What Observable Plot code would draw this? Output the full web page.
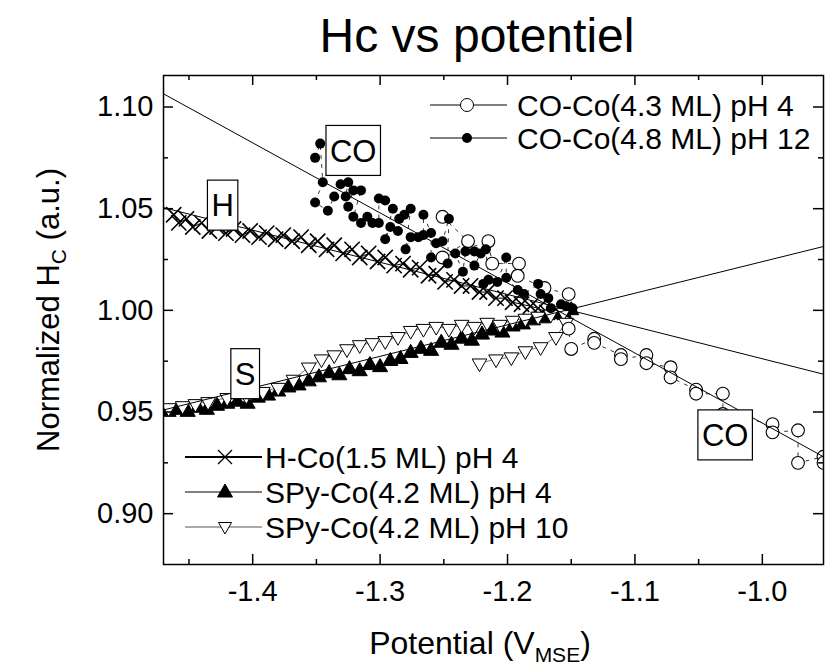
<!DOCTYPE html>
<html>
<head>
<meta charset="utf-8">
<script src="https://cdn.jsdelivr.net/npm/d3@7"></script>
<script src="https://cdn.jsdelivr.net/npm/@observablehq/plot@0.6"></script>
<style>
  html, body { margin: 0; padding: 0; background: #fff; }
  #chart svg { display: block; }
</style>
</head>
<body>
<div id="chart"></div>
<script>
// ---------- data ----------
const titleText = "Hc vs potentiel";
const xTicks = [-1.4, -1.3, -1.2, -1.1, -1.0];
const xTickLabels = ["-1.4", "-1.3", "-1.2", "-1.1", "-1.0"];
const xMinorTicks = [-1.45, -1.35, -1.25, -1.15, -1.05];
const yTicks = [0.90, 0.95, 1.00, 1.05, 1.10];
const yTickLabels = ["0.90", "0.95", "1.00", "1.05", "1.10"];
const yMinorTicks = [0.925, 0.975, 1.025, 1.075];

const seriesNames = ["CO-Co(4.3 ML) pH 4", "CO-Co(4.8 ML) pH 12", "H-Co(1.5 ML) pH 4", "SPy-Co(4.2 ML) pH 4", "SPy-Co(4.2 ML) pH 10"];

const hCo = [
  [-1.462,1.047],[-1.458,1.043],[-1.452,1.045],[-1.447,1.041],[-1.440,1.043],[-1.434,1.039],
  [-1.428,1.041],[-1.421,1.038],[-1.415,1.040],[-1.408,1.037],[-1.402,1.039],[-1.395,1.036],
  [-1.389,1.038],[-1.382,1.035],[-1.376,1.037],[-1.369,1.034],[-1.362,1.036],[-1.356,1.032],
  [-1.349,1.034],[-1.342,1.030],[-1.336,1.032],[-1.329,1.028],[-1.322,1.030],[-1.316,1.026],
  [-1.309,1.028],[-1.302,1.024],[-1.296,1.026],[-1.289,1.022],[-1.282,1.023],[-1.276,1.020],
  [-1.269,1.021],[-1.262,1.017],[-1.256,1.018],[-1.249,1.014],[-1.242,1.015],[-1.236,1.012],
  [-1.229,1.012],[-1.222,1.009],[-1.216,1.009],[-1.209,1.006],[-1.202,1.006],[-1.196,1.004],
  [-1.189,1.003],[-1.182,1.002],[-1.176,1.001],[-1.169,0.999],[-1.162,1.000],[-1.155,0.999]
];

const spy4 = [
  [-1.466,0.950],[-1.459,0.951],[-1.451,0.950],[-1.443,0.952],[-1.436,0.951],[-1.428,0.953],
  [-1.420,0.954],[-1.412,0.955],[-1.404,0.954],[-1.396,0.957],[-1.388,0.958],[-1.380,0.960],
  [-1.372,0.962],[-1.364,0.963],[-1.356,0.965],[-1.348,0.967],[-1.340,0.969],[-1.332,0.968],
  [-1.324,0.971],[-1.316,0.970],[-1.308,0.973],[-1.300,0.972],[-1.292,0.975],[-1.284,0.976],
  [-1.276,0.979],[-1.268,0.981],[-1.260,0.980],[-1.252,0.984],[-1.244,0.983],[-1.236,0.986],
  [-1.228,0.985],[-1.220,0.988],[-1.212,0.990],[-1.204,0.989],[-1.196,0.992],[-1.188,0.993],
  [-1.180,0.995],[-1.172,0.996],[-1.164,0.998],[-1.156,0.999],[-1.150,1.000]
];

const spy10 = [
  [-1.466,0.952],[-1.455,0.953],[-1.445,0.954],[-1.435,0.955],[-1.420,0.957],[-1.405,0.958],
  [-1.392,0.960],[-1.380,0.962],[-1.368,0.966],[-1.356,0.972],[-1.346,0.976],[-1.336,0.978],
  [-1.326,0.981],[-1.316,0.983],[-1.306,0.984],[-1.296,0.985],[-1.286,0.987],[-1.276,0.990],
  [-1.266,0.991],[-1.256,0.992],[-1.246,0.991],[-1.236,0.993],[-1.226,0.992],[-1.216,0.994],
  [-1.206,0.993],[-1.196,0.995],[-1.186,0.996],[-1.176,0.997],[-1.166,0.998],[-1.156,0.999],
  [-1.154,0.994],[-1.162,0.987],[-1.174,0.982],[-1.186,0.980],[-1.197,0.977],[-1.209,0.976],
  [-1.222,0.974]
];

const co4 = [
  [-1.251,1.046],[-1.231,1.034],[-1.251,1.026],[-1.215,1.034],[-1.212,1.023],[-1.191,1.023],
  [-1.192,1.017],[-1.171,1.011],[-1.152,1.008],[-1.152,0.991],[-1.150,0.981],[-1.132,0.986],
  [-1.132,0.984],[-1.111,0.978],[-1.111,0.976],[-1.091,0.978],[-1.091,0.974],[-1.072,0.972],
  [-1.072,0.967],[-1.052,0.961],[-1.052,0.959],[-1.031,0.959],[-1.031,0.949],[-0.992,0.944],
  [-0.992,0.940],[-0.972,0.941],[-0.972,0.925],[-0.952,0.928],[-0.952,0.925]
];

const co12 = [
  [-1.351,1.075],[-1.347,1.082],[-1.345,1.063],[-1.351,1.053],[-1.341,1.049],[-1.336,1.056],
  [-1.331,1.062],[-1.325,1.063],[-1.327,1.056],[-1.325,1.051],[-1.321,1.059],[-1.315,1.059],
  [-1.321,1.046],[-1.315,1.043],[-1.310,1.046],[-1.306,1.043],[-1.301,1.043],[-1.301,1.055],
  [-1.296,1.054],[-1.290,1.050],[-1.296,1.035],[-1.292,1.041],[-1.286,1.039],[-1.285,1.045],
  [-1.281,1.047],[-1.276,1.050],[-1.280,1.030],[-1.276,1.036],[-1.270,1.036],[-1.266,1.037],
  [-1.266,1.047],[-1.260,1.038],[-1.260,1.026],[-1.256,1.033],[-1.251,1.034],[-1.246,1.045],
  [-1.247,1.023],[-1.241,1.028],[-1.235,1.019],[-1.233,1.029],[-1.226,1.029],[-1.221,1.028],
  [-1.226,1.022],[-1.217,1.030],[-1.215,1.015],[-1.219,1.013],[-1.208,1.014],[-1.201,1.026],
  [-1.201,1.016],[-1.192,1.010],[-1.187,1.008],[-1.176,1.013],[-1.174,1.008],[-1.168,1.006],
  [-1.166,1.001],[-1.158,1.003],[-1.154,1.002],[-1.149,1.001]
];

// linear fits (end points read at the frame edges)
const fitCO = [[-1.47, 1.1065], [-0.952, 0.928]];
const fitH  = [[-1.47, 1.0505], [-0.952, 0.9686]];
const fitS  = [[-1.47, 0.951],  [-0.952, 1.0314]];

// boxed annotations
const notes = [
  {text: "CO", x: -1.3207, y: 1.0784},
  {text: "H",  x: -1.4232, y: 1.0515},
  {text: "S",  x: -1.4055, y: 0.9686},
  {text: "CO", x: -1.0288, y: 0.9385}
];

// ---------- layout ----------
const W = 830, H = 670, mt = 75, mb = 106, ml = 163, mr = 7;
const pw = W - ml - mr, ph = H - mt - mb;
const font = "'Liberation Sans', Arial, Helvetica, sans-serif";
const X = d => d[0], Y = d => d[1];

const chart = Plot.plot({
  width: W, height: H,
  marginTop: mt, marginBottom: mb, marginLeft: ml, marginRight: mr,
  style: {fontFamily: font, fontSize: "29px", color: "black", background: "white", overflow: "visible"},
  x: {domain: [-1.47, -0.952]},
  y: {domain: [0.875, 1.1155]},
  marks: [
    // connecting lines
    Plot.line(hCo, {x: X, y: Y, stroke: "black", strokeWidth: 1}),
    Plot.line(spy4, {x: X, y: Y, stroke: "black", strokeWidth: 1}),
    Plot.line(spy10, {x: X, y: Y, stroke: "#555", strokeWidth: 0.8}),
    Plot.line(co4, {x: X, y: Y, stroke: "black", strokeWidth: 0.8, strokeDasharray: "3,6"}),
    Plot.line(co12, {x: X, y: Y, stroke: "black", strokeWidth: 0.8, strokeDasharray: "3,6"}),
    // markers
    Plot.dot(hCo, {x: X, y: Y, symbol: "times", r: 7, stroke: "black", strokeWidth: 1.6, clip: true}),
    Plot.dot(spy4, {x: X, y: Y, symbol: "triangle2", r: 7.2, fill: "black", stroke: "black", strokeWidth: 1, clip: true}),
    Plot.dot(spy10, {x: X, y: Y, symbol: "triangle2", rotate: 180, r: 7, fill: "white", stroke: "black", strokeWidth: 1, clip: true}),
    Plot.dot(co4, {x: X, y: Y, r: 6.4, fill: "white", stroke: "black", strokeWidth: 1.1, clip: true}),
    Plot.dot(co12, {x: X, y: Y, r: 5, fill: "black", stroke: "none", clip: true}),
    // fit lines
    Plot.line(fitCO, {x: X, y: Y, stroke: "black", strokeWidth: 1}),
    Plot.line(fitH, {x: X, y: Y, stroke: "black", strokeWidth: 1}),
    Plot.line(fitS, {x: X, y: Y, stroke: "black", strokeWidth: 1}),
    // inward ticks on all four sides
    Plot.tickX(xTicks, {x: d => d, insetTop: ph - 10, stroke: "black", strokeWidth: 1.5}),
    Plot.tickX(xTicks, {x: d => d, insetBottom: ph - 10, stroke: "black", strokeWidth: 1.5}),
    Plot.tickX(xMinorTicks, {x: d => d, insetTop: ph - 5, stroke: "black", strokeWidth: 1.5}),
    Plot.tickX(xMinorTicks, {x: d => d, insetBottom: ph - 5, stroke: "black", strokeWidth: 1.5}),
    Plot.tickY(yTicks, {y: d => d, insetRight: pw - 10, stroke: "black", strokeWidth: 1.5}),
    Plot.tickY(yTicks, {y: d => d, insetLeft: pw - 10, stroke: "black", strokeWidth: 1.5}),
    Plot.tickY(yMinorTicks, {y: d => d, insetRight: pw - 5, stroke: "black", strokeWidth: 1.5}),
    Plot.tickY(yMinorTicks, {y: d => d, insetLeft: pw - 5, stroke: "black", strokeWidth: 1.5}),
    Plot.frame({stroke: "black", strokeWidth: 1.5}),
    Plot.axisX({ticks: xTicks, tickSize: 0, tickPadding: 16, label: null,
      tickFormat: d => xTickLabels[xTicks.indexOf(d)] ?? String(d)}),
    Plot.axisY({ticks: yTicks, tickSize: 0, tickPadding: 10, label: null,
      tickFormat: d => yTickLabels[yTicks.indexOf(d)] ?? String(d)})
  ]
});
document.getElementById("chart").appendChild(chart);

// ---------- annotations, legends, titles ----------
const svg = d3.select(chart);
const sx = chart.scale("x"), sy = chart.scale("y");

// boxed labels
const noteG = svg.append("g").attr("font-family", font).attr("font-size", 31);
notes.forEach(n => {
  const cx = sx.apply(n.x), cy = sy.apply(n.y);
  const g = noteG.append("g");
  const rect = g.append("rect").attr("fill", "white").attr("stroke", "black").attr("stroke-width", 1.2);
  const t = g.append("text").attr("x", cx).attr("y", cy).attr("text-anchor", "middle")
    .attr("dy", "0.36em").text(n.text);
  const w = t.node().getComputedTextLength() + 8;
  rect.attr("x", cx - w / 2).attr("y", cy - 25).attr("width", w).attr("height", 50);
});

// legends
const legG = svg.append("g").attr("font-family", font).attr("font-size", 30).attr("text-anchor", "start");
function marker(g, kind, x, y) {
  if (kind === "openCircle") g.append("circle").attr("cx", x).attr("cy", y).attr("r", 6.5).attr("fill", "white").attr("stroke", "black");
  if (kind === "filledCircle") g.append("circle").attr("cx", x).attr("cy", y).attr("r", 5).attr("fill", "black");
  if (kind === "times") g.append("path").attr("d", `M${x-7},${y-7}L${x+7},${y+7}M${x-7},${y+7}L${x+7},${y-7}`).attr("stroke", "black").attr("stroke-width", 1.3);
  if (kind === "triUp") g.append("path").attr("d", `M${x},${y-8}L${x+7.5},${y+5}L${x-7.5},${y+5}Z`).attr("fill", "black").attr("stroke", "black");
  if (kind === "triDown") g.append("path").attr("d", `M${x},${y+7}L${x+6.5},${y-4.5}L${x-6.5},${y-4.5}Z`).attr("fill", "white").attr("stroke", "black");
}
function legendRow(y, x0, x1, xm, tx, label, kind, lw, lc) {
  const g = legG.append("g");
  g.append("line").attr("x1", x0).attr("x2", x1).attr("y1", y).attr("y2", y).attr("stroke", lc).attr("stroke-width", lw);
  marker(g, kind, xm, y);
  g.append("text").attr("x", tx).attr("y", y).attr("dy", "0.36em").attr("text-anchor", "start").text(label);
}
legendRow(105, 430, 507, 467, 517, seriesNames[0], "openCircle", 1, "black");
legendRow(138, 430, 507, 467, 517, seriesNames[1], "filledCircle", 1, "black");
legendRow(457, 185, 262, 225, 265, seriesNames[2], "times", 2, "black");
legendRow(492, 185, 262, 225, 265, seriesNames[3], "triUp", 1, "black");
legendRow(527, 185, 262, 225, 265, seriesNames[4], "triDown", 1, "#555");

// title
svg.append("text").attr("x", 477).attr("y", 52).attr("text-anchor", "middle")
  .attr("font-family", font).attr("font-size", 48).text(titleText);

// y axis label with subscript
const yl = svg.append("text").attr("transform", "translate(59,310) rotate(-90)")
  .attr("text-anchor", "middle").attr("font-family", font).attr("font-size", 31);
yl.append("tspan").text("Normalized H");
yl.append("tspan").attr("font-size", 21).attr("dy", 7).text("C");
yl.append("tspan").attr("dy", -7).text(" (a.u.)");

// x axis label with subscript
const xl = svg.append("text").attr("x", 480).attr("y", 654)
  .attr("text-anchor", "middle").attr("font-family", font).attr("font-size", 32);
xl.append("tspan").text("Potential (V");
xl.append("tspan").attr("font-size", 21).attr("dy", 8).text("MSE");
xl.append("tspan").attr("dy", -8).text(")");
</script>
</body>
</html>
